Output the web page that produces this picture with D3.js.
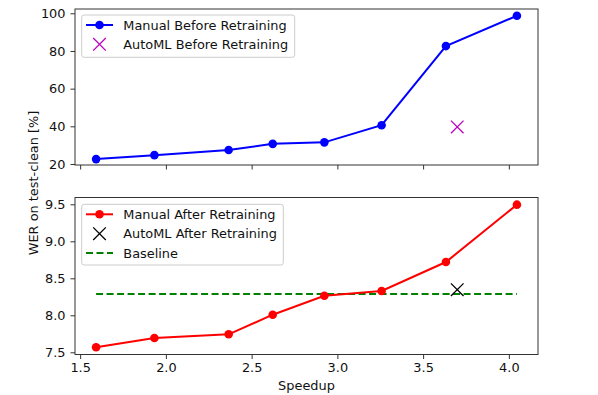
<!DOCTYPE html>
<html><head><meta charset="utf-8">
<script src="https://cdn.jsdelivr.net/npm/d3@7"></script>
<style>body{margin:0;background:#fff}svg{display:block;font-family:"DejaVu Sans",sans-serif}</style>
</head><body>
<svg id="c" width="598" height="395"></svg>
<script>
const speedup = [1.593, 1.933, 2.366, 2.623, 2.924, 3.258, 3.633, 4.047];
const werBefore = [22.6, 24.7, 27.4, 30.7, 31.5, 40.6, 82.6, 98.7];
const werAfter = [7.568, 7.693, 7.743, 8.008, 8.265, 8.328, 8.72, 9.495];
const automlX = [3.699];
const automlBefore = [39.7];
const automlAfter = [8.346];
const baselineValue = 8.288;
const xTicks = [1.5, 2.0, 2.5, 3.0, 3.5, 4.0];
const topTicks = [20, 40, 60, 80, 100];
const botTicks = [7.5, 8.0, 8.5, 9.0, 9.5];

const svg = d3.select("#c");
const L = 75, R = 538;
const x = d3.scaleLinear().domain([1.470, 4.170]).range([L, R]);
const yTop = d3.scaleLinear().domain([100, 20]).range([13.3, 164]);
const yBot = d3.scaleLinear().domain([9.5, 7.5]).range([204.3, 352.3]);
const panels = [
  {y: yTop, t: 9, b: 165, ticks: topTicks, fmt: d3.format("d")},
  {y: yBot, t: 197.5, b: 354.5, ticks: botTicks, fmt: d3.format(".1f")}
];
const fs = 12.9;
panels.forEach(p => {
  const ya = d3.axisLeft(p.y).tickValues(p.ticks).tickFormat(p.fmt).tickSize(4.5).tickPadding(5);
  const gy = svg.append("g").attr("transform", `translate(${L},0)`).call(ya);
  const xa = d3.axisBottom(x).tickValues(xTicks).tickFormat(d3.format(".1f")).tickSize(4.5).tickPadding(4);
  const gx = svg.append("g").attr("transform", `translate(0,${p.b})`).call(xa);
  if (p.t < 100) gx.selectAll("text").remove();
  [gx, gy].forEach(g => {
    g.select(".domain").remove();
    g.selectAll("line").attr("stroke", "#333").attr("stroke-width", 1);
    g.selectAll("text").attr("fill", "#111").style("font-size", fs + "px").style("font-family", "DejaVu Sans");
  });
  svg.append("rect").attr("x", L).attr("y", p.t).attr("width", R - L).attr("height", p.b - p.t)
    .attr("fill", "none").attr("stroke", "#333").attr("stroke-width", 1);
});

const line = y => d3.line().x((d, i) => x(speedup[i])).y(d => y(d));
function xmark(g, cx, cy, r, color, w) {
  g.append("path").attr("d", `M${cx - r},${cy - r}L${cx + r},${cy + r}M${cx - r},${cy + r}L${cx + r},${cy - r}`)
    .attr("stroke", color).attr("stroke-width", w).attr("fill", "none");
}

// top
svg.append("path").datum(werBefore).attr("d", line(yTop)).attr("fill", "none").attr("stroke", "#0000ff").attr("stroke-width", 2);
svg.selectAll(".pb").data(werBefore).join("circle").attr("cx", (d, i) => x(speedup[i])).attr("cy", d => yTop(d)).attr("r", 4.3).attr("fill", "#0000ff");
automlBefore.forEach((v, i) => xmark(svg, x(automlX[i]), yTop(v), 6.3, "#bf00bf", 1.3));

// bottom
svg.append("line").attr("x1", x(speedup[0])).attr("x2", x(speedup[speedup.length - 1]))
  .attr("y1", yBot(baselineValue)).attr("y2", yBot(baselineValue))
  .attr("stroke", "#008000").attr("stroke-width", 2).attr("stroke-dasharray", "7,3.5");
svg.append("path").datum(werAfter).attr("d", line(yBot)).attr("fill", "none").attr("stroke", "#ff0000").attr("stroke-width", 2);
svg.selectAll(".pa").data(werAfter).join("circle").attr("cx", (d, i) => x(speedup[i])).attr("cy", d => yBot(d)).attr("r", 4.3).attr("fill", "#ff0000");
automlAfter.forEach((v, i) => xmark(svg, x(automlX[i]), yBot(v), 6.3, "#000", 1.3));

// legends
function legend(x0, y0, w, h, rows) {
  svg.append("rect").attr("x", x0).attr("y", y0).attr("width", w).attr("height", h).attr("rx", 2.5)
    .attr("fill", "#fff").attr("fill-opacity", 0.8).attr("stroke", "#ccc").attr("stroke-width", 1);
  rows.forEach(r => {
    const lx1 = 86, lx2 = 113, mx = 99.5;
    if (r.type === "lm") {
      svg.append("line").attr("x1", lx1).attr("x2", lx2).attr("y1", r.y).attr("y2", r.y).attr("stroke", r.c).attr("stroke-width", 2);
      svg.append("circle").attr("cx", mx).attr("cy", r.y).attr("r", 4.3).attr("fill", r.c);
    } else if (r.type === "x") {
      xmark(svg, mx, r.y, 6.3, r.c, 1.3);
    } else {
      svg.append("line").attr("x1", lx1).attr("x2", lx2).attr("y1", r.y).attr("y2", r.y).attr("stroke", r.c)
        .attr("stroke-width", 2).attr("stroke-dasharray", "7,3.5");
    }
    svg.append("text").attr("x", 123.3).attr("y", r.y).attr("dy", "0.36em").style("font-size", fs + "px").attr("fill", "#111").text(r.t);
  });
}
legend(81.7, 15, 213, 42.3, [
  {type: "lm", c: "#0000ff", y: 25, t: "Manual Before Retraining"},
  {type: "x", c: "#bf00bf", y: 44.3, t: "AutoML Before Retraining"}
]);
legend(81.7, 204.3, 201.6, 60.7, [
  {type: "lm", c: "#ff0000", y: 214.3, t: "Manual After Retraining"},
  {type: "x", c: "#000", y: 233.7, t: "AutoML After Retraining"},
  {type: "d", c: "#008000", y: 253, t: "Baseline"}
]);

// axis labels
svg.append("text").attr("x", (L + R) / 2).attr("y", 385).attr("dy", "0.36em").attr("text-anchor", "middle")
  .style("font-size", fs + "px").attr("fill", "#111").text("Speedup");
svg.append("text").attr("transform", "translate(33,183) rotate(-90)").attr("dy", "0.36em").attr("text-anchor", "middle")
  .style("font-size", fs + "px").attr("fill", "#111").text("WER on test-clean [%]");
</script>
</body></html>
